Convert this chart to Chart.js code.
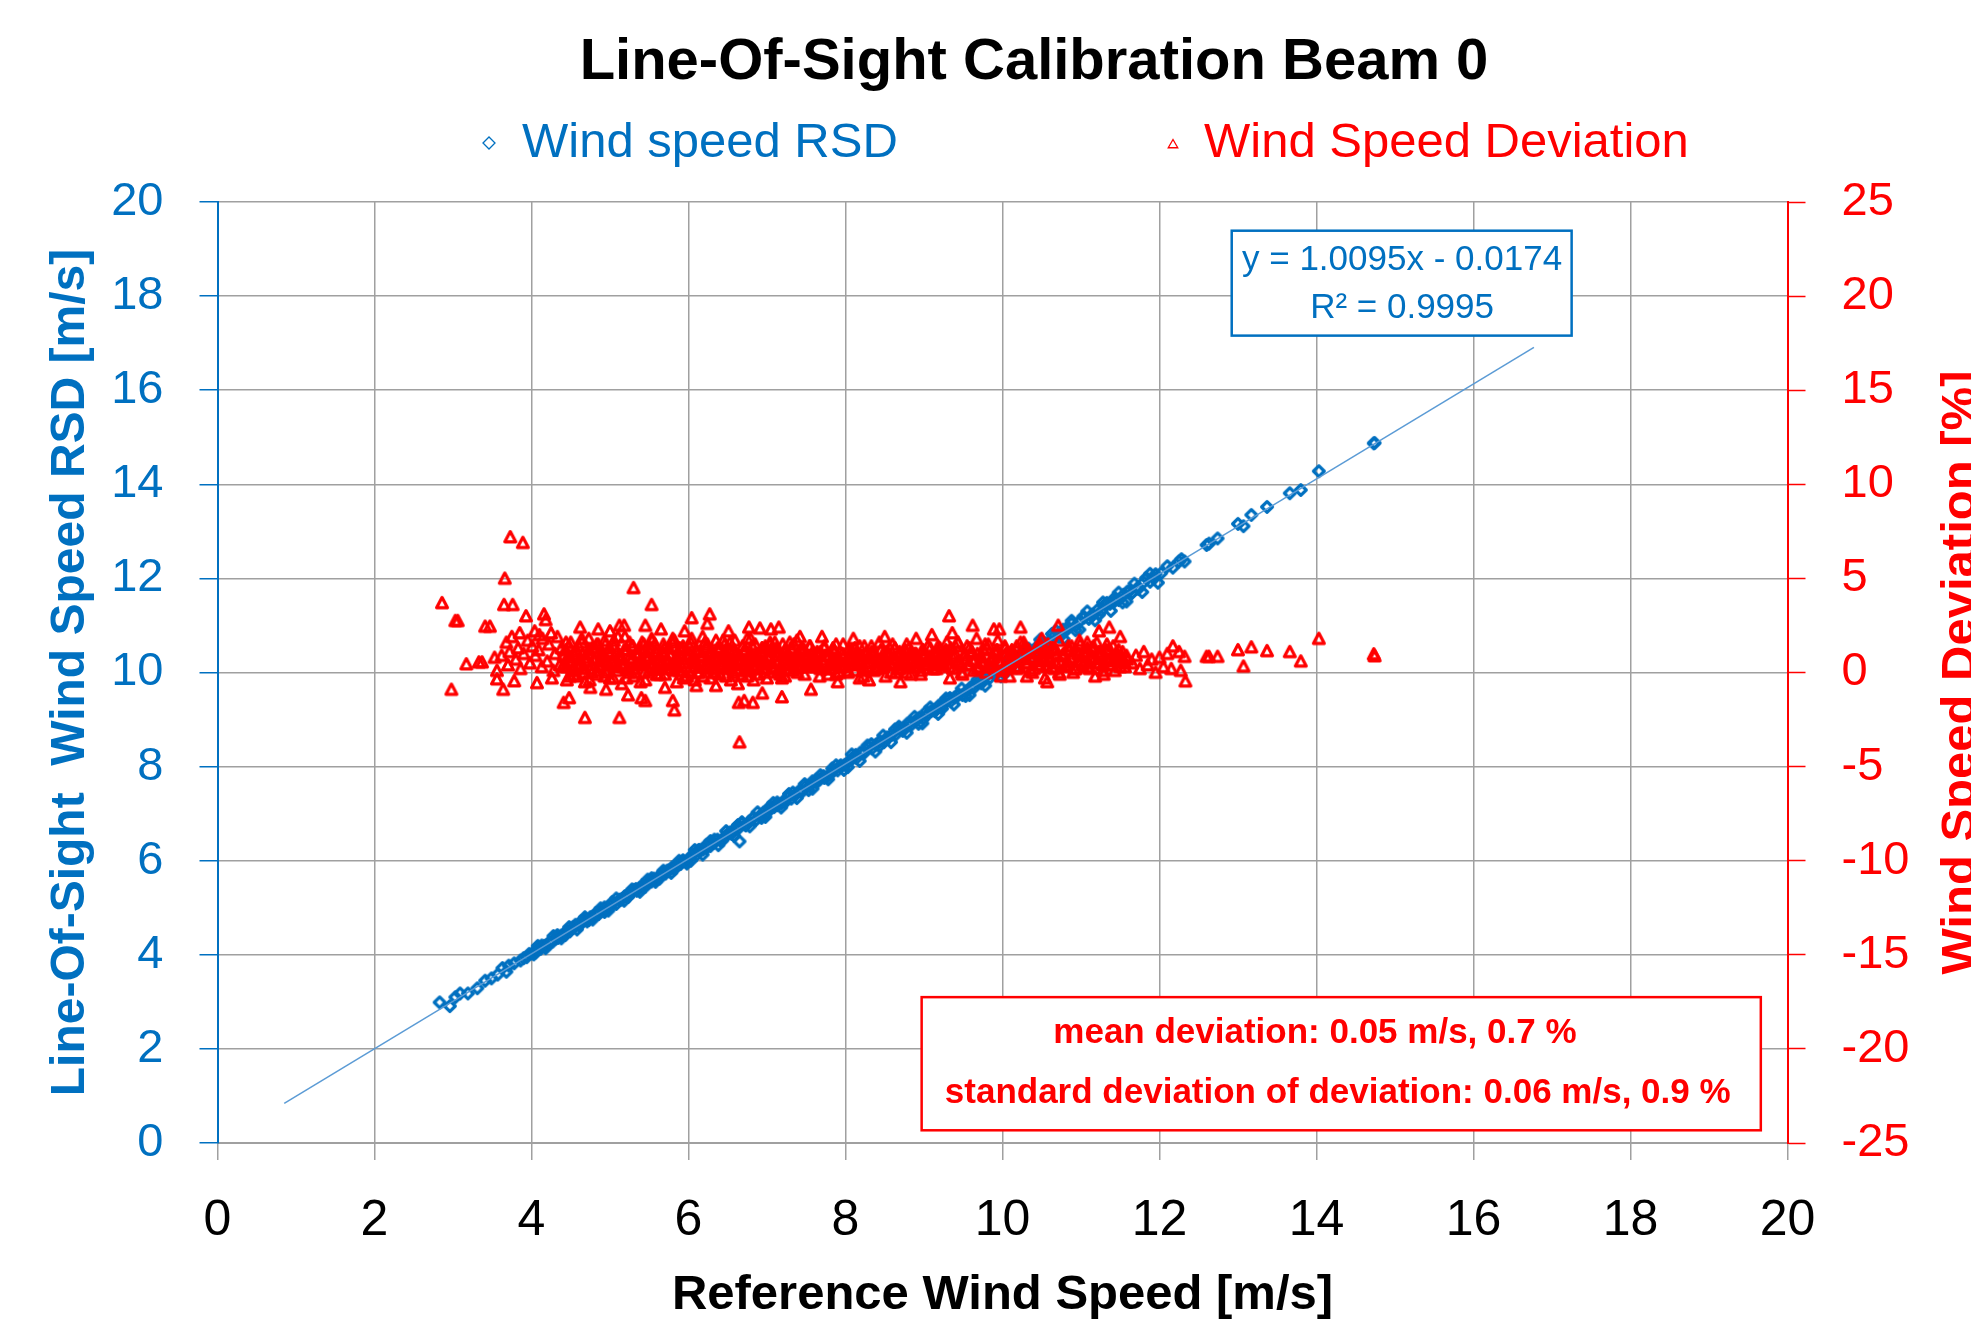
<!DOCTYPE html>
<html>
<head>
<meta charset="utf-8">
<script src="https://cdn.jsdelivr.net/npm/chart.js@4.4.1/dist/chart.umd.min.js"></script>
<style>
  html, body { margin: 0; padding: 0; background: #fff; overflow: hidden; }
  #wrap { width: 1971px; height: 1327px; }
</style>
</head>
<body>
<div id="wrap"><canvas id="losChart" width="1971" height="1327"></canvas></div>
<script>
// ---- data ----
const rsdRefSpeed = [
  2.83, 2.96, 3.03, 3.09, 3.19, 3.31, 3.41, 3.49, 3.57, 3.63, 3.68, 3.71, 3.78, 3.86,
  3.90, 3.94, 3.97, 4.01, 4.05, 4.08, 4.12, 4.16, 4.19, 4.23, 4.27, 4.31, 4.34, 4.38,
  4.42, 4.45, 4.49, 4.53, 4.56, 4.60, 4.64, 4.67, 4.71, 4.75,
  4.78, 4.82, 4.86, 4.90, 4.93, 4.97, 5.01, 5.04, 5.08, 5.12,
  5.15, 5.19, 5.23, 5.27, 5.30, 5.34, 5.38, 5.41, 5.45, 5.49,
  5.53, 5.56, 5.60, 5.64, 5.67, 5.71, 5.75, 5.79, 5.82, 5.86,
  5.90, 5.93, 5.97,
  6.01, 6.05, 6.10, 6.14, 6.19, 6.23, 6.28, 6.32, 6.37, 6.41,
  6.46, 6.50, 6.55, 6.59, 6.64, 6.68, 6.73, 6.77, 6.82, 6.86,
  6.91, 6.95, 7.00, 7.04, 7.09, 7.13, 7.18, 7.22, 7.27, 7.31,
  7.36, 7.40, 7.45, 7.49, 7.54, 7.58, 7.63, 7.67, 7.72, 7.76,
  7.81, 7.85, 7.90, 7.94, 7.99, 6.65,
  8.04, 8.09, 8.14, 8.19, 8.24, 8.29, 8.34, 8.39, 8.44, 8.49,
  8.54, 8.59, 8.64, 8.69, 8.74, 8.79, 8.84, 8.89, 8.94, 8.99,
  9.04, 9.09, 9.14, 9.19, 9.24, 9.29, 9.34, 9.39, 9.44, 9.49,
  9.54, 9.59, 9.64, 9.69, 9.74, 9.79, 9.84, 9.89, 9.94, 9.99,
  10.05, 10.11, 10.16, 10.22, 10.27, 10.33, 10.38, 10.44, 10.49, 10.55,
  10.60, 10.66, 10.71, 10.77, 10.82, 10.88, 10.93, 10.99, 11.04, 11.10,
  11.15, 11.21, 11.26, 11.32, 11.37, 11.43, 11.48, 11.54, 11.59, 11.65,
  11.72, 11.80, 11.88, 11.95, 12.02, 12.10, 12.17, 12.25, 12.28, 12.32,
  12.60, 12.63, 12.74, 13.00, 13.07, 13.17, 13.37, 13.66, 13.80, 14.03, 14.73, 14.74,
  4.03, 4.13, 4.23, 4.33, 4.43, 4.53, 4.63, 4.73, 4.83, 4.93,
  5.03, 5.13, 5.23, 5.33, 5.43, 5.53, 5.63, 5.73, 5.83, 5.93,
  6.03, 6.13, 6.23, 6.33, 6.43, 6.53, 6.63, 6.73, 6.83, 6.93,
  7.03, 7.13, 7.23, 7.33, 7.43, 7.53, 7.63, 7.73, 7.83, 7.93,
  8.03, 8.13, 8.23, 8.33, 8.43, 8.53, 8.63, 8.73, 8.83, 8.93,
  9.03, 9.13, 9.23, 9.33, 9.43, 9.53, 9.63, 9.73, 9.83, 9.93,
  10.03, 10.13, 10.23, 10.33, 10.43, 10.53, 10.63, 10.73, 10.83, 10.93,
  11.03, 11.13, 11.23, 11.33, 11.43, 11.53, 11.63, 11.73, 11.83, 11.93,
  4.08, 4.18, 4.28, 4.38, 4.48, 4.58, 4.68, 4.78, 4.88, 4.98,
  5.08, 5.18, 5.28, 5.38, 5.48, 5.58, 5.68, 5.78, 5.88, 5.98,
  6.08, 6.18, 6.28, 6.38, 6.48, 6.58, 6.68, 6.78, 6.88, 6.98,
  7.08, 7.18, 7.28, 7.38, 7.48, 7.58, 7.68, 7.78, 7.88, 7.98,
  8.08, 8.18, 8.28, 8.38, 8.48, 8.58, 8.68, 8.78, 8.88, 8.98,
  9.08, 9.18, 9.28, 9.38, 9.48, 9.58, 9.68, 9.78, 9.88, 9.98,
  10.08, 10.18, 10.28, 10.38, 10.48, 10.58, 10.68, 10.78, 10.88, 10.98,
  11.08, 11.18, 11.28, 11.38, 11.48, 11.58, 11.68, 11.78, 11.88, 11.98
];
const rsdSpeed = [
  2.99, 2.91, 3.10, 3.18, 3.18, 3.29, 3.45, 3.50, 3.58, 3.72, 3.64, 3.77, 3.82, 3.88,
  3.93, 3.95, 4.02, 4.03, 4.05, 4.12, 4.13, 4.19, 4.20, 4.27, 4.28, 4.35, 4.36, 4.41,
  4.45, 4.51, 4.50, 4.58, 4.64, 4.62, 4.68, 4.74, 4.71, 4.80,
  4.81, 4.88, 4.87, 4.95, 5.01, 4.99, 5.05, 5.11, 5.08, 5.17,
  5.18, 5.25, 5.24, 5.32, 5.38, 5.36, 5.42, 5.48, 5.45, 5.54,
  5.56, 5.62, 5.61, 5.69, 5.75, 5.73, 5.79, 5.86, 5.82, 5.91,
  5.93, 5.99, 5.98,
  6.05, 6.12, 6.12, 6.23, 6.24, 6.34, 6.31, 6.38, 6.45, 6.42,
  6.50, 6.57, 6.57, 6.68, 6.69, 6.79, 6.76, 6.83, 6.90, 6.87,
  6.95, 7.02, 7.02, 7.13, 7.14, 7.24, 7.21, 7.28, 7.35, 7.32,
  7.40, 7.47, 7.47, 7.58, 7.59, 7.69, 7.66, 7.73, 7.80, 7.77,
  7.85, 7.92, 7.92, 8.03, 8.04, 6.41,
  8.10, 8.18, 8.18, 8.30, 8.31, 8.42, 8.39, 8.47, 8.54, 8.52,
  8.60, 8.68, 8.68, 8.80, 8.81, 8.92, 8.89, 8.97, 9.04, 9.02,
  9.10, 9.18, 9.18, 9.30, 9.31, 9.42, 9.39, 9.47, 9.54, 9.52,
  9.60, 9.68, 9.68, 9.80, 9.81, 9.92, 9.89, 9.97, 10.04, 10.02,
  10.13, 10.23, 10.21, 10.36, 10.36, 10.49, 10.44, 10.55, 10.62, 10.59,
  10.68, 10.78, 10.76, 10.91, 10.91, 11.04, 10.99, 11.10, 11.17, 11.14,
  11.23, 11.33, 11.31, 11.46, 11.46, 11.59, 11.54, 11.65, 11.72, 11.69,
  11.80, 11.92, 11.93, 12.09, 12.11, 12.26, 12.23, 12.36, 12.41, 12.36,
  12.71, 12.74, 12.85, 13.16, 13.11, 13.35, 13.52, 13.81, 13.88, 14.28, 14.87, 14.88,
  4.01, 4.20, 4.26, 4.42, 4.42, 4.58, 4.71, 4.74, 4.89, 4.91,
  5.12, 5.17, 5.23, 5.40, 5.46, 5.63, 5.62, 5.79, 5.85, 6.01,
  6.00, 6.23, 6.27, 6.45, 6.43, 6.60, 6.76, 6.75, 6.92, 6.91,
  7.14, 7.18, 7.24, 7.45, 7.49, 7.50, 7.72, 7.76, 7.96, 8.00,
  7.99, 8.25, 8.28, 8.48, 8.44, 8.62, 8.79, 8.76, 8.94, 8.91,
  9.17, 9.20, 9.23, 9.46, 9.51, 9.50, 9.73, 9.77, 9.99, 9.99,
  9.98, 10.27, 10.29, 10.51, 10.44, 10.63, 10.82, 10.76, 10.96, 10.90,
  11.19, 11.21, 11.23, 11.48, 11.52, 11.49, 11.75, 11.78, 12.01, 12.00,
  4.19, 4.14, 4.40, 4.35, 4.59, 4.54, 4.80, 4.75, 4.99, 4.94,
  5.20, 5.15, 5.39, 5.34, 5.60, 5.55, 5.79, 5.74, 6.00, 5.94,
  6.23, 6.13, 6.42, 6.33, 6.63, 6.53, 6.82, 6.73, 7.03, 6.93,
  7.23, 7.13, 7.42, 7.33, 7.63, 7.53, 7.82, 7.73, 8.03, 7.93,
  8.26, 8.12, 8.45, 8.32, 8.66, 8.52, 8.85, 8.72, 9.06, 8.92,
  9.26, 9.12, 9.45, 9.32, 9.66, 9.52, 9.85, 9.72, 10.06, 9.92,
  10.30, 10.11, 10.49, 10.31, 10.70, 10.51, 10.89, 10.71, 11.10, 10.91,
  11.30, 11.11, 11.49, 11.31, 11.70, 11.51, 11.89, 11.71, 12.10, 11.91
];

const devRefSpeed = [
  // low wind speeds
  2.86, 2.98, 3.03, 3.06, 3.17, 3.33, 3.37, 3.41, 3.47, 3.53,
  3.56, 3.56, 3.64, 3.66, 3.65, 3.76, 3.73, 3.89, 3.68, 3.78,
  3.93, 4.07, 4.16, 4.18, 4.04, 4.10, 3.62, 3.70, 3.72, 3.80,
  3.83, 3.86, 3.90, 3.95, 3.98, 4.01, 4.05, 4.09, 4.13, 4.14,
  4.20, 4.22, 4.25, 4.28, 4.30, 4.33, 4.36, 4.38, 3.85, 3.75,
  4.26, 4.41, 4.48, 4.62, 4.68,
  // dense cloud 4.4 - 7.6
  4.40, 4.43, 4.45, 4.48, 4.50, 4.53, 4.55, 4.58, 4.60, 4.63,
  4.65, 4.68, 4.70, 4.73, 4.75, 4.78, 4.80, 4.83, 4.85, 4.88,
  4.90, 4.93, 4.95, 4.98, 5.00, 5.03, 5.05, 5.08, 5.10, 5.13,
  5.15, 5.18, 5.20, 5.23, 5.25, 5.28, 5.30, 5.33, 5.35, 5.38,
  5.40, 5.43, 5.45, 5.48, 5.50, 5.53, 5.55, 5.58, 5.60, 5.63,
  5.65, 5.68, 5.70, 5.73, 5.75, 5.78, 5.80, 5.83, 5.85, 5.88,
  5.90, 5.93, 5.95, 5.98, 6.00, 6.03, 6.05, 6.08, 6.10, 6.13,
  6.15, 6.18, 6.20, 6.23, 6.25, 6.28, 6.30, 6.33, 6.35, 6.38,
  6.40, 6.43, 6.45, 6.48, 6.50, 6.53, 6.55, 6.58, 6.60, 6.63,
  6.65, 6.68, 6.70, 6.73, 6.75, 6.78, 6.80, 6.83, 6.85, 6.88,
  6.90, 6.93, 6.95, 6.98, 7.00, 7.03, 7.05, 7.08, 7.10, 7.13,
  7.15, 7.18, 7.20, 7.23, 7.25, 7.28, 7.30, 7.33, 7.35, 7.38,
  7.40, 7.43, 7.45, 7.48, 7.50, 7.53, 7.55, 7.58,
  5.12, 5.12, 5.18, 5.30, 5.53, 5.23, 5.40, 5.45, 5.80, 5.82,
  5.45, 6.04, 6.27, 6.24, 6.51, 6.65, 6.64, 6.71, 6.82, 6.94,
  7.19, 6.77, 6.91, 7.05, 7.15, 7.42, 7.56, 4.85, 4.95, 5.00,
  5.65, 5.70, 6.10, 6.35, 5.95, 4.75,
  4.42, 4.47, 4.52, 4.57, 4.62, 4.67, 4.72, 4.77, 4.82, 4.87,
  4.92, 4.97, 5.02, 5.07, 5.12, 5.17, 5.22, 5.27, 5.32, 5.37,
  5.42, 5.47, 5.52, 5.57, 5.62, 5.67, 5.72, 5.77, 5.82, 5.87,
  5.92, 5.97, 6.02, 6.07, 6.12, 6.17, 6.22, 6.27, 6.32, 6.37,
  6.42, 6.47, 6.52, 6.57, 6.62, 6.67, 6.72, 6.77, 6.82, 6.87,
  6.92, 6.97, 7.02, 7.07, 7.12, 7.17, 7.22, 7.27, 7.32, 7.37,
  7.42, 7.47, 7.52,
  4.44, 4.49, 4.54, 4.59, 4.64, 4.69, 4.74, 4.79, 4.84, 4.89,
  4.94, 4.99, 5.04, 5.09, 5.14, 5.19, 5.24, 5.29, 5.34, 5.39,
  5.44, 5.49, 5.54, 5.59, 5.64, 5.69, 5.74, 5.79, 5.84, 5.89,
  5.94, 5.99, 6.04, 6.09, 6.14, 6.19, 6.24, 6.29, 6.34, 6.39,
  6.44, 6.49, 6.54, 6.59, 6.64, 6.69, 6.74, 6.79, 6.84, 6.89,
  6.94, 6.99, 7.04, 7.09, 7.14, 7.19, 7.24, 7.29, 7.34, 7.39,
  7.44, 7.49, 7.54, 7.59,
  // 7.6 - 9.3
  7.61, 7.64, 7.67, 7.70, 7.73, 7.76, 7.79, 7.82, 7.85, 7.88,
  7.91, 7.94, 7.97, 8.00, 8.03, 8.06, 8.09, 8.12, 8.15, 8.18,
  8.21, 8.24, 8.27, 8.30, 8.33, 8.36, 8.39, 8.42, 8.45, 8.48,
  8.51, 8.54, 8.57, 8.60, 8.63, 8.66, 8.69, 8.72, 8.75, 8.78,
  8.81, 8.84, 8.87, 8.90, 8.93, 8.96, 8.99, 9.02, 9.05, 9.08,
  9.11, 9.14, 9.17, 9.20, 9.23, 9.26, 9.29,
  7.70, 8.10, 8.50, 8.90, 9.10, 7.90, 8.30, 8.70,
  7.62, 7.68, 7.74, 7.80, 7.86, 7.92, 7.98, 8.04, 8.10, 8.16,
  8.22, 8.28, 8.34, 8.40, 8.46, 8.52, 8.58, 8.64, 8.70, 8.76,
  8.82, 8.88, 8.94, 9.00, 9.06, 9.12, 9.18, 9.24,
  // 9.3 - 11.6
  9.31, 9.34, 9.37, 9.40, 9.43, 9.46, 9.49, 9.52, 9.55, 9.58,
  9.61, 9.64, 9.67, 9.70, 9.73, 9.76, 9.79, 9.82, 9.85, 9.88,
  9.91, 9.94, 9.97, 10.00, 10.03, 10.06, 10.09, 10.12, 10.15, 10.18,
  10.21, 10.24, 10.27, 10.30, 10.33, 10.36, 10.39, 10.42, 10.45, 10.48,
  10.51, 10.54, 10.57, 10.60, 10.63, 10.66, 10.69, 10.72, 10.75, 10.78,
  10.81, 10.84, 10.87, 10.90, 10.93, 10.96, 10.99, 11.02, 11.05, 11.08,
  11.11, 11.14, 11.17, 11.20, 11.23, 11.26, 11.29, 11.32, 11.35, 11.38,
  11.41, 11.44, 11.47, 11.50, 11.53, 11.56, 11.59,
  9.32, 9.36, 9.62, 9.89, 9.96, 10.23, 10.57, 10.31, 10.71, 10.50,
  10.98, 11.08, 11.23, 11.36, 11.50,
  7.63, 7.68, 7.73, 7.78, 7.83, 7.88, 7.93, 7.98, 8.03, 8.08,
  8.13, 8.18, 8.23, 8.28, 8.33, 8.38, 8.43, 8.48, 8.53, 8.58,
  8.63, 8.68, 8.73, 8.78, 8.83, 8.88, 8.93, 8.98, 9.03, 9.08,
  9.13, 9.18, 9.23, 9.28, 9.33, 9.38, 9.43, 9.48, 9.53, 9.58,
  9.63, 9.68, 9.73, 9.78, 9.83, 9.88, 9.93, 9.98, 10.03, 10.08,
  10.13, 10.18, 10.23, 10.28, 10.33, 10.38, 10.43, 10.48, 10.53, 10.58,
  10.63, 10.68, 10.73, 10.78, 10.83, 10.88, 10.93, 10.98, 11.03, 11.08,
  11.13, 11.18, 11.23, 11.28, 11.33, 11.38, 11.43, 11.48, 11.53, 11.58,
  // high wind speeds
  11.65, 11.70, 11.75, 11.80, 11.85, 11.90, 11.95, 12.00, 12.05, 12.10,
  12.17, 12.25, 12.32, 12.15, 12.27, 12.33,
  12.60, 12.63, 12.74, 13.00, 13.07, 13.17, 13.37, 13.66, 13.80, 14.03, 14.73, 14.74
];
const devPercent = [
  3.7, -0.9, 2.75, 2.75, 0.45, 0.55, 0.55, 2.45, 2.45, 0.8,
  0.1, -0.35, -0.9, 5.0, 3.6, 3.6, 7.2, 6.9, 1.6, -0.45,
  3.0, -0.55, 3.1, 2.8, 2.2, 2.0, 0.9, 0.4, 1.1, 0.7,
  1.3, 0.2, 1.0, 1.7, 0.5, 1.4, 0.9, 1.2, 0.3, 1.8,
  0.6, 1.5, 2.1, 0.1, 1.0, 1.9, 0.4, 1.3, 2.1, 1.9,
  -0.3, -1.6, -1.35, 2.4, -2.4,
  0.3, 1.2, -0.4, 0.8, 1.6, 0.1, 0.9, -0.2, 1.4, 0.5,
  1.0, -0.5, 0.6, 1.8, 0.2, 1.3, 0.7, -0.1, 1.5, 0.4,
  0.8, 1.7, 0.0, 1.1, -0.3, 0.6, 1.4, 0.3, 1.9, 0.9,
  -0.6, 0.5, 1.2, 0.2, 1.6, 0.7, -0.2, 1.0, 0.4, 1.3,
  0.6, 1.5, -0.4, 0.9, 0.1, 1.8, 0.5, 1.1, -0.1, 0.7,
  0.4, 1.5, -0.1, 0.7, 1.3, 0.2, 1.8, 0.6, -0.5, 1.0,
  0.5, 1.4, -0.2, 0.9, 0.1, 1.6, 0.8, -0.4, 1.2, 0.3,
  0.9, 1.9, 0.3, 1.4, 0.6, -0.3, 1.1, 0.0, 1.7, 0.8,
  1.3, 0.4, 1.0, -0.2, 0.7, 1.6, 0.2, 1.2, 0.5, -0.6,
  0.7, -0.1, 1.1, 0.5, 1.8, 0.1, 0.9, -0.4, 1.5, 0.6,
  0.2, 1.0, 0.6, 1.4, -0.3, 0.8, 1.2, 0.3, 1.6, 0.0,
  1.1, 0.4, 1.5, -0.2, 0.9, 0.5, 1.3, 0.1, 0.7, 1.7,
  0.3, 1.2, 0.6, -0.1, 1.0, 0.4, 1.4, 0.8,
  -2.4, 2.5, 2.5, 4.5, 3.6, -1.2, -1.35, -1.5, -1.5, -2.0,
  2.5, 2.9, 3.1, 2.6, 2.2, -3.7, -1.6, -1.5, -1.6, -1.1,
  -1.3, 2.4, 2.35, 2.3, 2.4, 1.9, -0.9, 2.3, -0.9, 2.2,
  2.3, -0.8, -0.7, -0.7, 2.2, -0.8,
  0.5, 0.9, 0.2, 1.2, 0.7, 0.0, 1.0, 0.4, 1.3, 0.6,
  0.8, 0.1, 1.1, 0.5, 0.9, 0.3, 1.2, 0.7, 0.0, 1.0,
  0.4, 0.8, 1.3, 0.2, 0.6, 1.1, 0.5, 0.9, 0.1, 0.7,
  1.2, 0.3, 1.0, 0.6, 0.0, 0.8, 1.3, 0.4, 0.9, 0.2,
  0.7, 1.1, 0.5, 0.0, 1.0, 0.6, 1.2, 0.3, 0.8, 0.4,
  1.1, 0.2, 0.9, 0.5, 1.3, 0.1, 0.7, 1.0, 0.4, 0.8,
  0.6, 1.2, 0.3,
  1.6, -0.2, 1.0, 0.3, 1.8, 0.6, -0.4, 1.3, 0.1, 0.9,
  1.5, 0.4, -0.3, 1.1, 0.7, 1.9, 0.0, 1.4, 0.5, -0.5,
  1.2, 0.8, 1.7, 0.2, -0.1, 1.0, 0.6, 1.6, 0.3, 1.3,
  -0.3, 0.9, 1.8, 0.5, 1.1, -0.2, 1.5, 0.7, 0.0, 1.2,
  1.7, 0.4, -0.4, 1.0, 0.6, 1.4, 0.1, 1.8, 0.8, -0.1,
  1.3, 0.5, 1.6, 0.2, 0.9, -0.3, 1.2, 0.7, 1.5, 0.0,
  1.1, 0.4, 1.4, 0.8,
  0.4, 1.1, -0.2, 0.7, 1.4, 0.2, 0.9, 0.5, 1.2, -0.1,
  0.8, 0.3, 1.5, 0.6, 0.0, 1.0, 0.4, 1.3, 0.7, -0.3,
  0.9, 0.2, 1.1, 0.5, 1.4, 0.1, 0.8, 0.6, 1.2, 0.3,
  -0.2, 1.0, 0.5, 1.5, 0.7, 0.2, 1.1, 0.4, 0.9, 0.0,
  1.3, 0.6, 0.3, 1.0, 0.8, -0.1, 1.2, 0.5, 1.4, 0.7,
  0.2, 1.0, 0.6, 1.3, 0.4, 0.9, 1.6,
  1.9, 1.8, 1.9, 1.8, 2.0, -0.5, -0.4, -0.5,
  0.6, 0.2, 0.9, 0.4, 1.1, 0.7, 0.3, 0.8, 0.5, 1.0,
  0.1, 0.6, 0.9, 0.3, 0.7, 1.1, 0.4, 0.8, 0.2, 0.6,
  1.0, 0.5, 0.3, 0.9, 0.7, 0.4, 1.1, 0.6,
  0.7, 1.3, 0.2, 1.0, 1.6, 0.5, -0.1, 0.9, 1.4, 0.4,
  1.1, 0.6, 1.8, 0.3, 0.8, 1.2, 0.0, 1.5, 0.7, 0.4,
  1.0, 1.7, 0.5, 0.2, 1.3, 0.8, -0.2, 1.1, 0.6, 1.4,
  0.3, 0.9, 1.6, 0.5, 1.2, 0.1, 0.8, 1.0, 0.4, 1.5,
  0.7, -0.3, 1.1, 0.6, 1.3, 0.2, 0.9, 1.7, 0.5, 1.0,
  0.3, 1.4, 0.8, 0.0, 1.2, 0.6, 1.5, 0.4, 0.9, 1.1,
  0.2, 1.3, 0.7, 1.6, 0.5, 1.0, -0.1, 0.8, 1.2, 0.4,
  1.4, 0.6, 0.9, 0.3, 1.1, 0.5, 0.7,
  3.0, 2.1, 2.5, 2.3, 2.3, 2.4, -0.5, -0.2, 2.5, 1.8,
  1.7, 1.6, 2.2, 2.4, 1.9,
  1.0, 0.3, 1.3, -0.1, 0.7, 1.5, 0.4, 0.9, 0.1, 1.2,
  0.6, 1.4, -0.2, 0.8, 1.1, 0.2, 1.6, 0.5, 0.9, 0.0,
  1.3, 0.4, 0.7, 1.5, -0.1, 1.0, 0.3, 1.2, 0.6, 0.8,
  0.2, 1.4, 0.5, 1.1, -0.3, 0.9, 1.6, 0.4, 0.7, 1.3,
  0.1, 1.0, 0.6, 1.5, 0.3, 0.8, 1.2, -0.2, 1.4, 0.5,
  0.9, 0.2, 1.6, 0.7, 1.1, 0.0, 1.3, 0.4, 0.8, 1.5,
  0.3, 1.2, -0.1, 0.9, 0.6, 1.4, 0.2, 1.0, 0.5, 1.3,
  0.8, -0.2, 1.1, 0.4, 1.5, 0.7, 0.1, 1.2, 0.6, 0.9,
  0.5, 0.9, 0.2, 1.1, 0.4, 0.7, 0.0, 0.8, 0.3, 1.0,
  1.4, 1.1, 0.85, 0.2, 0.1, -0.46,
  0.85, 0.85, 0.85, 1.2, 0.33, 1.35, 1.15, 1.1, 0.6, 1.8, 0.98, 0.88
];

// extra points filling the solid core of the deviation cloud
const devCoreRefSpeed = [
  4.41, 4.45, 4.48, 4.51, 4.54, 4.57, 4.61, 4.64, 4.67, 4.70,
  4.73, 4.77, 4.80, 4.83, 4.86, 4.89, 4.93, 4.96, 4.99, 5.02,
  5.05, 5.09, 5.12, 5.15, 5.18, 5.21, 5.25, 5.28, 5.31, 5.34,
  5.37, 5.41, 5.44, 5.47, 5.50, 5.53, 5.57, 5.60, 5.63, 5.66,
  5.69, 5.73, 5.76, 5.79, 5.82, 5.85, 5.89, 5.92, 5.95, 5.98,
  6.01, 6.05, 6.08, 6.11, 6.14, 6.17, 6.21, 6.24, 6.27, 6.30,
  6.33, 6.37, 6.40, 6.43, 6.46, 6.49, 6.53, 6.56, 6.59, 6.62,
  6.65, 6.69, 6.72, 6.75, 6.78, 6.81, 6.85, 6.88, 6.91, 6.94,
  6.97, 7.01, 7.04, 7.07, 7.10, 7.13, 7.17, 7.20, 7.23, 7.26,
  7.29, 7.33, 7.36, 7.39, 7.42, 7.45, 7.49, 7.52, 7.55, 7.58,
  7.60, 7.64, 7.68, 7.72, 7.76, 7.80, 7.84, 7.88, 7.92, 7.96,
  8.00, 8.04, 8.08, 8.12, 8.16, 8.20, 8.24, 8.28, 8.32, 8.36,
  8.40, 8.44, 8.48, 8.52, 8.56, 8.60, 8.64, 8.68, 8.72, 8.76,
  8.80, 8.84, 8.88, 8.92, 8.96, 9.00, 9.04, 9.08, 9.12, 9.16,
  9.20, 9.24, 9.28, 9.32, 9.36, 9.40, 9.44, 9.48, 9.52, 9.56,
  9.60, 9.64, 9.68, 9.72, 9.76, 9.80, 9.84, 9.88, 9.92, 9.96,
  10.00, 10.04, 10.08, 10.12, 10.16, 10.20, 10.24, 10.28, 10.32, 10.36,
  10.40, 10.44, 10.48, 10.52, 10.56, 10.60, 10.64, 10.68, 10.72, 10.76,
  10.80, 10.84, 10.88, 10.92, 10.96, 11.00, 11.04, 11.08, 11.12, 11.16,
  11.20, 11.24, 11.28, 11.32, 11.36, 11.40, 11.44, 11.48, 11.52, 11.56
];
const devCorePercent = [
  0.9, 0.3, 1.4, 0.6, -0.1, 1.1, 0.4, 1.6, 0.2, 0.8,
  1.2, 0.0, 0.7, 1.5, 0.3, 1.0, -0.2, 0.6, 1.3, 0.5,
  1.7, 0.1, 0.9, 0.4, 1.2, -0.3, 0.8, 1.4, 0.2, 1.0,
  0.5, 1.6, 0.0, 0.7, 1.1, 0.3, 1.5, -0.1, 0.9, 0.6,
  1.3, 0.2, 1.0, 0.4, 1.7, 0.8, 0.1, 1.2, 0.5, -0.2,
  1.4, 0.7, 0.3, 1.1, 0.0, 0.9, 1.6, 0.4, 1.0, 0.2,
  0.8, 1.3, -0.1, 0.6, 1.5, 0.3, 1.1, 0.5, 1.7, 0.1,
  0.9, 0.4, 1.2, -0.2, 0.7, 1.4, 0.2, 1.0, 0.6, 1.3,
  0.0, 0.8, 1.5, 0.3, 1.1, 0.5, -0.1, 0.9, 1.2, 0.4,
  1.6, 0.6, 0.2, 1.0, 0.7, 1.3, 0.3, 0.9, 0.5, 1.1,
  0.8, 0.3, 1.1, 0.5, 0.9, 0.2, 1.3, 0.6, 0.0, 1.0,
  0.4, 1.2, 0.7, 0.1, 0.9, 0.5, 1.4, 0.3, 0.8, 1.1,
  0.2, 0.6, 1.0, 0.4, 1.3, 0.7, 0.0, 0.9, 0.5, 1.2,
  0.3, 1.1, 0.6, 0.8, 0.1, 1.0, 0.4, 1.3, 0.7, 0.2,
  0.9, 0.5, 1.2, 0.3, 0.8, 1.4, 0.6, 0.0, 1.0, 0.4,
  1.1, 0.7, 0.2, 0.9, 0.5, 1.3, 0.3, 0.8, 1.1, 0.6,
  0.1, 1.0, 0.4, 1.2, 0.7, 0.3, 0.9, 1.4, 0.5, 0.8,
  0.2, 1.1, 0.6, 1.0, 0.3, 0.8, 1.3, 0.5, 0.0, 0.9,
  0.4, 1.2, 0.7, 0.2, 1.0, 0.6, 1.1, 0.3, 0.8, 1.4,
  0.5, 0.9, 0.1, 1.2, 0.7, 0.4, 1.0, 0.6, 0.8, 0.3
];

// trendline end points (Excel forecast line)
const trendRefSpeed = [0.85, 16.77];
const trendSpeed = [0.84, 16.91];

const seriesLabels = ['Wind speed RSD', 'Wind Speed Deviation'];
const xRange = [0, 20, 2];
const yLeftRange = [0, 20, 2];
const yRightRange = [-25, 25, 5];

const equationLines = ['y = 1.0095x - 0.0174', 'R\u00b2 = 0.9995'];
const statLines = ['mean deviation: 0.05 m/s, 0.7 %', 'standard deviation of deviation: 0.06 m/s, 0.9 %'];

// ---- styling ----
const FONT = "'Liberation Sans', Arial, sans-serif";
const BLUE = '#0070C0';
const RED = '#FF0000';
const GRID = '#A0A0A0';

// hollow Excel-like markers, used as image point styles
function makeMarker(kind, color) {
  const c = document.createElement('canvas');
  c.width = 18; c.height = 18;
  const g = c.getContext('2d');
  g.strokeStyle = color;
  g.lineJoin = 'round';
  g.beginPath();
  if (kind === 'triangle') {
    g.lineWidth = 3.2;
    g.moveTo(9, 3.6);
    g.lineTo(14.4, 13.8);
    g.lineTo(3.6, 13.8);
  } else {
    g.lineWidth = 3.2;
    g.moveTo(9, 3.6);
    g.lineTo(14.4, 9);
    g.lineTo(9, 14.4);
    g.lineTo(3.6, 9);
  }
  g.closePath();
  g.stroke();
  return c;
}

function drawMarker(ctx, style, cx, cy, r, color, lw) {
  ctx.save();
  ctx.strokeStyle = color;
  ctx.lineWidth = lw;
  ctx.beginPath();
  if (style === 'rectRot') {
    ctx.moveTo(cx - r, cy);
    ctx.lineTo(cx, cy - r);
    ctx.lineTo(cx + r, cy);
    ctx.lineTo(cx, cy + r);
  } else {
    ctx.moveTo(cx, cy - r);
    ctx.lineTo(cx + r * 0.866, cy + r / 2);
    ctx.lineTo(cx - r * 0.866, cy + r / 2);
  }
  ctx.closePath();
  ctx.stroke();
  ctx.restore();
}

function drawTextBox(chart, box, lines, color, font) {
  const ctx = chart.ctx;
  const xs = chart.scales.x, ys = chart.scales.y;
  const l = xs.getPixelForValue(box.x0), r = xs.getPixelForValue(box.x1);
  const t = ys.getPixelForValue(box.y1), b = ys.getPixelForValue(box.y0);
  ctx.save();
  ctx.fillStyle = '#fff';
  ctx.fillRect(l, t, r - l, b - t);
  ctx.strokeStyle = color;
  ctx.lineWidth = 2.5;
  ctx.strokeRect(l, t, r - l, b - t);
  ctx.fillStyle = color;
  ctx.font = font;
  ctx.textAlign = 'center';
  ctx.textBaseline = 'middle';
  lines.forEach((txt, i) => {
    ctx.fillText(txt, xs.getPixelForValue(box.textX[i]), ys.getPixelForValue(box.textY[i]));
  });
  ctx.restore();
}

const overlayPlugin = {
  id: 'overlay',
  afterDatasetsDraw(chart) {
    drawTextBox(chart, { x0: 12.92, x1: 17.25, y0: 17.16, y1: 19.39, textX: [15.09, 15.09], textY: [18.75, 17.75] },
      equationLines, BLUE, '35px ' + FONT);
    drawTextBox(chart, { x0: 8.97, x1: 19.66, y0: 0.27, y1: 3.10, textX: [13.98, 14.27], textY: [2.33, 1.05] },
      statLines, RED, 'bold 35px ' + FONT);
  },
  afterDraw(chart) {
    const ctx = chart.ctx;
    const area = chart.chartArea;
    ctx.save();
    // title
    ctx.fillStyle = '#000';
    ctx.font = 'bold 58px ' + FONT;
    ctx.textAlign = 'center';
    ctx.textBaseline = 'middle';
    ctx.fillText('Line-Of-Sight Calibration Beam 0', 1034, 63);
    // legend
    ctx.font = '49px ' + FONT;
    ctx.textAlign = 'left';
    drawMarker(ctx, 'rectRot', 489, 143, 6, BLUE, 1.3);
    ctx.fillStyle = BLUE;
    ctx.fillText(seriesLabels[0], 522, 143);
    drawMarker(ctx, 'triangle', 1173, 145, 5.5, RED, 1.3);
    ctx.fillStyle = RED;
    ctx.fillText(seriesLabels[1], 1204, 143);
    // right axis title, reads bottom to top like the left one
    ctx.translate(1975, (area.top + area.bottom) / 2);
    ctx.rotate(-Math.PI / 2);
    ctx.font = 'bold 49px ' + FONT;
    ctx.textAlign = 'center';
    ctx.textBaseline = 'alphabetic';
    ctx.fillStyle = RED;
    ctx.fillText('Wind Speed Deviation [%]', 0, 0);
    ctx.restore();
  }
};

const rsdPoints = rsdRefSpeed.map((v, i) => ({ x: v, y: rsdSpeed[i] }));
const devPoints = devRefSpeed.map((v, i) => ({ x: v, y: devPercent[i] }))
  .concat(devCoreRefSpeed.map((v, i) => ({ x: v, y: devCorePercent[i] })));
const trendPoints = trendRefSpeed.map((v, i) => ({ x: v, y: trendSpeed[i] }));

const ctx = document.getElementById('losChart').getContext('2d');
const losChart = new Chart(ctx, {
  type: 'scatter',
  data: {
    datasets: [
      {
        label: 'Trendline',
        data: trendPoints,
        showLine: true,
        borderColor: '#5B9BD5',
        borderWidth: 1.5,
        pointRadius: 0,
        order: 0,
      },
      {
        label: seriesLabels[1],
        data: devPoints,
        yAxisID: 'y1',
        pointStyle: makeMarker('triangle', RED),
        pointRadius: 8,
        order: 1,
      },
      {
        label: seriesLabels[0],
        data: rsdPoints,
        yAxisID: 'y',
        pointStyle: makeMarker('diamond', BLUE),
        pointRadius: 8,
        order: 2,
      },
    ],
  },
  options: {
    responsive: false,
    devicePixelRatio: 1,
    animation: false,
    events: [],
    layout: { padding: { top: 202, left: 0, right: 0, bottom: 0 } },
    plugins: {
      legend: { display: false },
      title: { display: false },
      tooltip: { enabled: false },
    },
    scales: {
      x: {
        type: 'linear',
        min: xRange[0],
        max: xRange[1],
        ticks: { stepSize: xRange[2], color: '#000', font: { family: FONT, size: 50 }, padding: 31 },
        grid: { color: GRID, lineWidth: 1.5, tickLength: 17, tickColor: GRID, tickWidth: 1.5 },
        border: { color: GRID, width: 2 },
        title: {
          display: true,
          text: 'Reference Wind Speed [m/s]',
          color: '#000',
          font: { family: FONT, size: 49, weight: 'bold' },
          padding: { top: 0, bottom: 2 },
        },
        afterFit(scale) { scale.height = 184; },
      },
      y: {
        position: 'left',
        min: yLeftRange[0],
        max: yLeftRange[1],
        ticks: { stepSize: yLeftRange[2], color: BLUE, font: { family: FONT, size: 47 }, padding: 36 },
        grid: { color: GRID, lineWidth: 1.5, tickLength: 18, tickColor: BLUE, tickWidth: 1.5 },
        border: { color: BLUE, width: 2 },
        title: {
          display: true,
          text: 'Line-Of-Sight  Wind Speed RSD [m/s]',
          color: BLUE,
          font: { family: FONT, size: 48, weight: 'bold' },
          padding: { top: 42, bottom: 0 },
        },
        afterFit(scale) { scale.width = 217.5; },
      },
      y1: {
        position: 'right',
        min: yRightRange[0],
        max: yRightRange[1],
        ticks: { stepSize: yRightRange[2], color: RED, font: { family: FONT, size: 47 }, padding: 36 },
        grid: { drawOnChartArea: false, tickLength: 18, tickColor: RED, tickWidth: 1.5 },
        border: { color: RED, width: 2 },
        afterFit(scale) { scale.width = 183.5; },
      },
    },
  },
  plugins: [overlayPlugin],
});
</script>
</body>
</html>
